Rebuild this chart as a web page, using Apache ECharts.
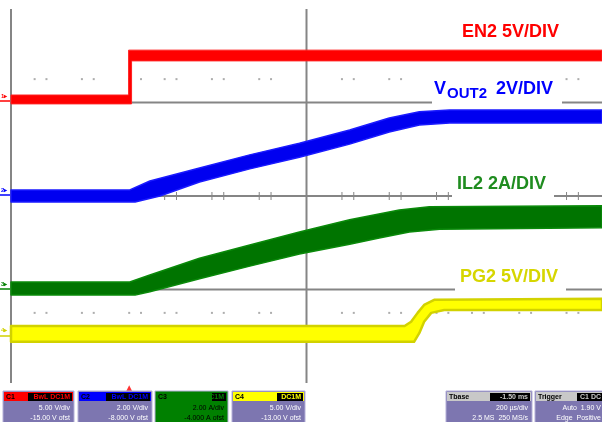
<!DOCTYPE html>
<html><head><meta charset="utf-8">
<script src="https://cdn.jsdelivr.net/npm/echarts@6/dist/echarts.min.js"></script>
<style>html,body{margin:0;padding:0;background:#fff}#c{width:602px;height:422px}</style>
</head><body><div id="c"></div><script>
// All trace values are in screen divisions: x = 0..10 time divisions, y = 0..8 vertical divisions (bottom = 0)
// EN2 (5 V/div) trace band edges
const en2UpperX = [0, 1.99, 1.99, 10];
const en2UpperY = [6.16, 6.16, 7.12, 7.12];
const en2LowerX = [0, 2.04, 2.04, 10];
const en2LowerY = [5.97, 5.97, 6.89, 6.89];
// VOUT2 (2 V/div)
const voutUpperX = [0, 2.01, 2.35, 3.19, 4.04, 4.88, 5.73, 6.40, 6.91, 7.42, 10];
const voutUpperY = [4.13, 4.13, 4.32, 4.60, 4.88, 5.13, 5.41, 5.67, 5.80, 5.84, 5.84];
const voutLowerX = [0, 2.10, 2.52, 3.19, 4.04, 4.88, 5.73, 6.40, 6.91, 7.42, 10];
const voutLowerY = [3.87, 3.87, 4.00, 4.30, 4.58, 4.83, 5.11, 5.37, 5.52, 5.56, 5.56];
// IL2 (2 A/div)
const il2UpperX = [0, 2.01, 2.35, 3.19, 4.04, 4.88, 5.73, 6.57, 7.08, 10];
const il2UpperY = [2.16, 2.16, 2.31, 2.67, 2.95, 3.23, 3.49, 3.70, 3.77, 3.79];
const il2LowerX = [0, 2.10, 2.35, 3.19, 4.04, 4.88, 5.73, 6.23, 6.74, 7.25, 10];
const il2LowerY = [1.88, 1.88, 1.95, 2.23, 2.50, 2.76, 2.97, 3.10, 3.23, 3.29, 3.32];
// PG2 (5 V/div)
const pg2UpperX = [0, 6.66, 6.77, 6.88, 6.99, 7.16, 10];
const pg2UpperY = [1.22, 1.22, 1.31, 1.50, 1.67, 1.78, 1.80];
const pg2LowerX = [0, 6.82, 6.91, 6.99, 7.11, 7.33, 10];
const pg2LowerY = [0.88, 0.88, 1.07, 1.31, 1.50, 1.56, 1.56];
// Graticule
const gridLinesY = [2, 4, 6];
const borderX = [0, 5];
const minorTicksX = [0.4, 0.6, 1.2, 1.4, 2.0, 2.2, 2.6, 2.8, 3.4, 3.6, 4.2, 4.4, 5.6, 5.8, 6.4, 6.6, 7.2, 7.4, 7.8, 8.0, 8.6, 8.8, 9.4, 9.6];
const dotRowsY = [1.5, 6.5];
const triggerX = 2.0;

function band(ux, uy, lx, ly) {
  const pts = ux.map((x, i) => [x, uy[i]]);
  for (let i = lx.length - 1; i >= 0; i--) pts.push([lx[i], ly[i]]);
  return pts;
}
function bandSeries(name, pts, fill, stroke, lw, z) {
  return {
    type: 'custom', name, z, silent: true, animation: false,
    data: pts,
    renderItem: function (params, api) {
      if (params.dataIndex !== 0) return null;
      const p = pts.map(v => api.coord(v));
      return { type: 'polygon', shape: { points: p }, style: { fill: fill, stroke: stroke, lineWidth: lw, lineJoin: 'round' } };
    }
  };
}
const GRAY = '#858585';
const series = [];
gridLinesY.forEach(y => series.push({ type: 'line', data: [[0, y], [10, y]], showSymbol: false, silent: true, animation: false, lineStyle: { color: GRAY, width: 2 }, z: 1 }));
borderX.forEach(x => series.push({ type: 'line', data: [[x, 0], [x, 8]], showSymbol: false, silent: true, animation: false, lineStyle: { color: GRAY, width: 2 }, z: 1 }));
series.push({
  type: 'custom', silent: true, animation: false, z: 1,
  data: minorTicksX.map(x => [x, 4]),
  renderItem: function (params, api) {
    const p = api.coord([api.value(0), api.value(1)]);
    return { type: 'line', shape: { x1: p[0], y1: p[1] - 4, x2: p[0], y2: p[1] + 4 }, style: { stroke: GRAY, lineWidth: 1 } };
  }
});
const dots = [];
dotRowsY.forEach(y => minorTicksX.forEach(x => dots.push([x, y])));
series.push({ type: 'scatter', data: dots, symbol: 'rect', symbolSize: 2, itemStyle: { color: '#999' }, silent: true, animation: false, z: 1 });

series.push(bandSeries('EN2', band(en2UpperX, en2UpperY, en2LowerX, en2LowerY), '#ff0000', '#ff2020', 1, 5));
series.push(bandSeries('VOUT2', band(voutUpperX, voutUpperY, voutLowerX, voutLowerY), '#0000f0', '#1a1aff', 1.5, 5));
series.push(bandSeries('IL2', band(il2UpperX, il2UpperY, il2LowerX, il2LowerY), '#007400', '#0a8a0a', 1.5, 5));
series.push(bandSeries('PG2', band(pg2UpperX, pg2UpperY, pg2LowerX, pg2LowerY), '#ffff00', '#d2d200', 2.5, 5));
// trigger marker
series.push({ type: 'scatter', data: [[triggerX, -0.05]], symbol: 'triangle', symbolSize: [6, 6], symbolOffset: [0, 3], itemStyle: { color: '#ff0000' }, silent: true, animation: false, z: 6, clip: false });

const FONT = '"Liberation Sans", Arial, sans-serif';
function txt(x, y, text, color, size, align, weight) {
  return { type: 'text', x: x, y: y, z: 100, silent: true,
    style: { text: text, fill: color, font: (weight || 'bold') + ' ' + size + 'px ' + FONT, textAlign: align || 'left', textVerticalAlign: 'middle' } };
}
function rect(x, y, w, h, fill, stroke) {
  return { type: 'rect', z: 99, silent: true, shape: { x: x, y: y, width: w, height: h }, style: { fill: fill, stroke: stroke || null, lineWidth: 1 } };
}
const graphics = [];
// label backgrounds
graphics.push(rect(432, 78, 130, 28, '#fff'));
graphics.push(rect(452, 172, 102, 30, '#fff'));
graphics.push(rect(455, 266, 111, 30, '#fff'));
graphics.push(txt(462, 32, 'EN2 5V/DIV', '#ff0000', 18));
graphics.push(txt(434, 89, 'V', '#0000ff', 18));
graphics.push(txt(447, 94, 'OUT2', '#0000ff', 15));
graphics.push(txt(496, 89, '2V/DIV', '#0000ff', 18));
graphics.push(txt(457, 184, 'IL2 2A/DIV', '#1f8c1f', 18));
graphics.push(txt(460, 277, 'PG2 5V/DIV', '#d6d600', 18));
// channel ground markers
const markers = [[96, 101, '#ff0000', '1'], [190, 195, '#0000ff', '2'], [284, 289, '#008000', '3'], [330, 336, '#d0d000', '4']];
markers.forEach(m => {
  graphics.push(txt(1, m[0], m[3] + '\u25B8', m[2], 6));
  graphics.push({ type: 'line', z: 100, silent: true, shape: { x1: 0, y1: m[1], x2: 10, y2: m[1] }, style: { stroke: m[2], lineWidth: 1.5 } });
});
// status panels
function panel(x, w, headFill, headText, headTextColor, boxText, l1, l2, bodyFill, bodyTextColor, boxW) {
  graphics.push(rect(x, 391, w, 32, bodyFill, '#b4afd8'));
  graphics.push(rect(x + 1, 392, w - 2, 9, headFill));
  graphics.push(rect(x + w - (boxW || 44) - 2, 393, boxW || 44, 8, '#000'));
  graphics.push(txt(x + 3, 397, headText, headTextColor, 7));
  graphics.push(txt(x + w - 4, 397, boxText, headFill === '#000' ? '#fff' : headFill, 7, 'right'));
  graphics.push(txt(x + w - 4, 408, l1, bodyTextColor, 7, 'right', 'normal'));
  graphics.push(txt(x + w - 4, 418, l2, bodyTextColor, 7, 'right', 'normal'));
}
panel(3, 71, '#ff0000', 'C1', '#000', 'BwL DC1M', '5.00 V/div', '-15.00 V ofst', '#7d76b0', '#fff');
panel(78, 74, '#0000ff', 'C2', '#000', 'BwL DC1M', '2.00 V/div', '-8.000 V ofst', '#7d76b0', '#fff');
panel(155, 73, '#008000', 'C3', '#000', 'DC1M', '2.00 A/div', '-4.000 A ofst', '#008000', '#000', 14);
panel(232, 73, '#ffff00', 'C4', '#000', 'DC1M', '5.00 V/div', '-13.00 V ofst', '#7d76b0', '#fff', 26);
panel(446, 86, '#c8c8c8', 'Tbase', '#000', '-1.50 ms', '200 µs/div', '2.5 MS  250 MS/s', '#7d76b0', '#fff', 40);
panel(535, 70, '#c8c8c8', 'Trigger', '#000', 'C1 DC', 'Auto  1.90 V', 'Edge  Positive', '#7d76b0', '#fff', 26);

const chart = echarts.init(document.getElementById('c'), null, { renderer: 'canvas' });
chart.setOption({
  animation: false,
  backgroundColor: '#fff',
  grid: { left: 11, top: 9, width: 592, height: 374 },
  xAxis: { type: 'value', min: 0, max: 10, show: false },
  yAxis: { type: 'value', min: 0, max: 8, show: false },
  series: series,
  graphic: graphics
});
</script></body></html>
